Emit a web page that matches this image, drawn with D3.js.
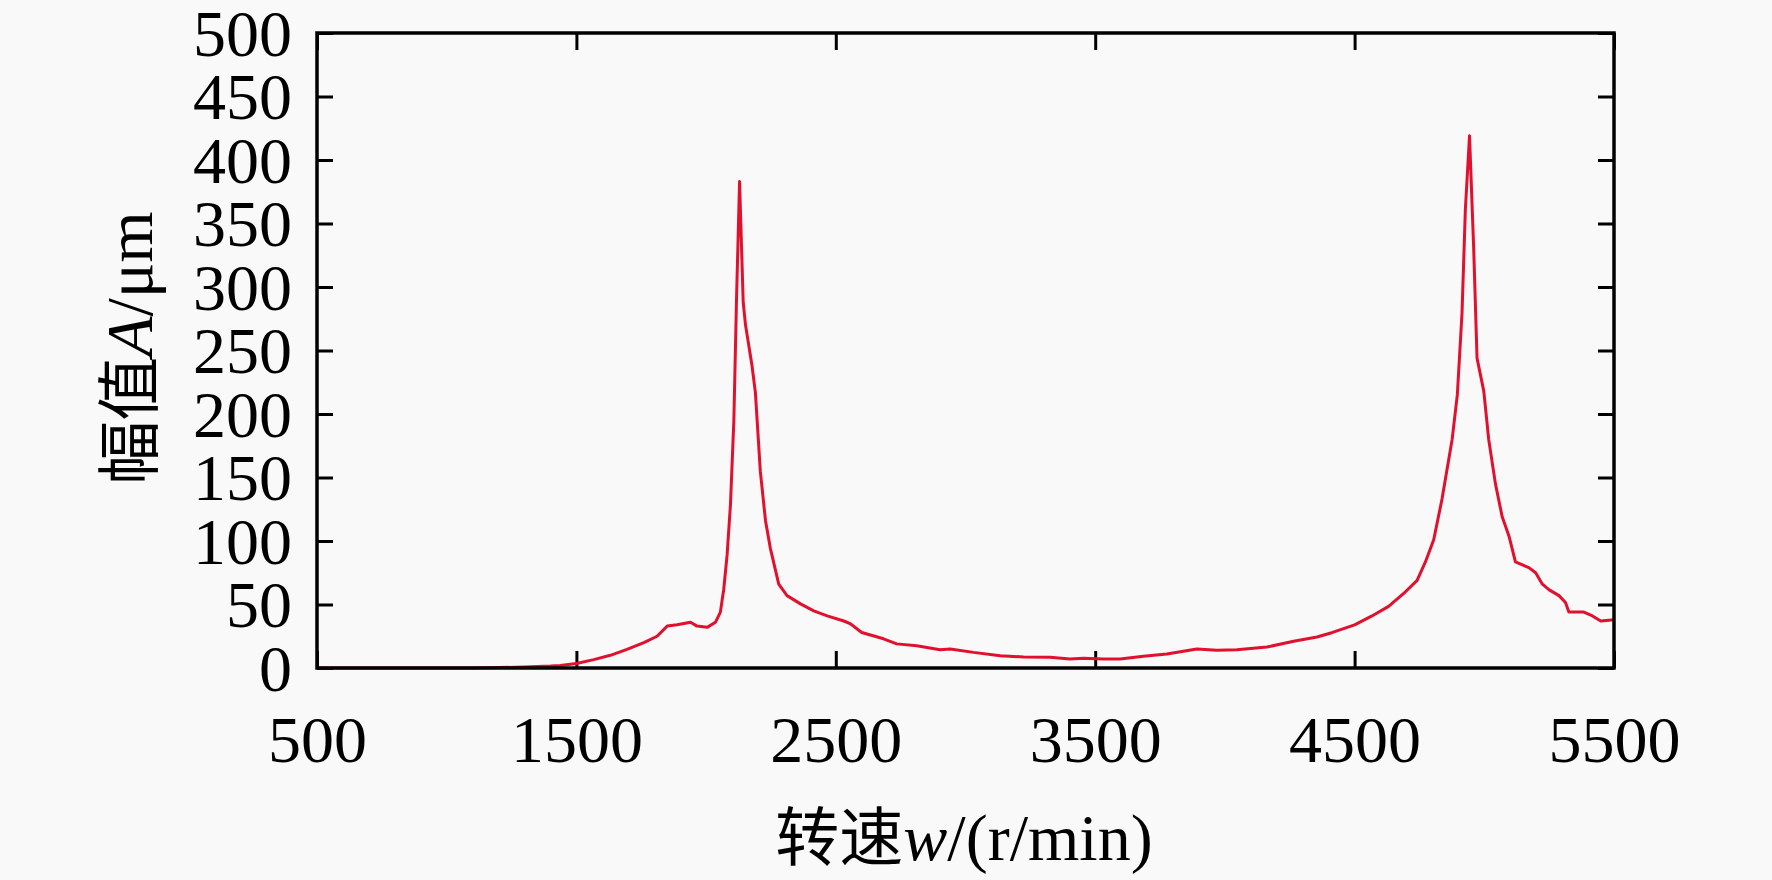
<!DOCTYPE html>
<html>
<head>
<meta charset="utf-8">
<script src="https://cdn.jsdelivr.net/npm/d3@7"></script>
<style>
  body { margin: 0; background: #f9f9f9; }
  svg { display: block; }
  .tick text { font-family: "Liberation Serif", "Times New Roman", serif; font-size: 66px; fill: #000; }
  .tick line { stroke: #000; stroke-width: 3; }
  .domain { display: none; }
</style>
</head>
<body>
<div class="canvas"></div>
<script>
// margins and dimensions
const w = 1772;
const h = 880;
const margin = { top: 33, right: 158, bottom: 212, left: 317 };
const graphWidth = w - margin.left - margin.right;
const graphHeight = h - margin.top - margin.bottom;

// rotating speed (r/min) and amplitude (um)
const speed = [500, 800, 1100, 1200, 1300, 1400, 1438, 1500, 1567, 1631, 1695, 1760, 1811, 1850, 1888, 1940, 1965,
  2004, 2036, 2055, 2068, 2081, 2094, 2107, 2117, 2129, 2143, 2152, 2177, 2190, 2209, 2229, 2248, 2280, 2312,
  2364, 2415, 2467, 2531, 2555, 2600, 2684, 2735, 2812, 2902, 2941, 3031, 3134, 3224, 3326, 3403, 3455, 3532,
  3596, 3686, 3776, 3892, 3969, 4046, 4162, 4265, 4355, 4415, 4500, 4567, 4631, 4696, 4741, 4773, 4805, 4837,
  4876, 4896, 4914, 4927, 4943, 4959, 4972, 4998, 5017, 5043, 5069, 5095, 5120, 5172, 5198, 5224, 5249, 5288,
  5313, 5326, 5384, 5417, 5449, 5500];
const amp = [0, 0, 0, 0.3, 0.8, 1.5, 2, 3.5, 6.6, 10, 14.6, 20, 25, 33, 34, 36, 33,
  32, 36, 44, 62, 89, 129, 195, 288, 383, 288, 270, 238, 217, 155, 116, 94, 66, 57,
  50.5, 45, 41, 37, 35, 28, 23, 19, 17.6, 14.4, 15, 12.3, 9.7, 8.7, 8.4, 7, 7.6, 7,
  7, 9.2, 11, 15, 14, 14.4, 16.5, 21, 24.4, 28, 34, 41, 48.5, 60, 69, 83.5, 101, 133,
  180, 215, 279, 361, 419, 331, 244, 218, 180, 145, 119, 104, 83.5, 79, 75, 66, 61.7, 57,
  51.5, 44, 44, 41, 37, 38];

// tick values
const xTicks = [500, 1500, 2500, 3500, 4500, 5500];
const yTicks = d3.range(0, 501, 50);

const svg = d3.select(".canvas").append("svg").attr("width", w).attr("height", h);

const graph = svg.append("g").attr("transform", `translate(${margin.left}, ${margin.top})`);

const xScale = d3.scaleLinear().domain([500, 5500]).range([0, graphWidth]);
const yScale = d3.scaleLinear().domain([0, 500]).range([graphHeight, 0]);

// axes with inward ticks on all four sides
const xAxis = graph.append("g")
  .attr("transform", `translate(0, ${graphHeight})`)
  .call(d3.axisBottom(xScale).tickValues(xTicks).tickSizeInner(-17).tickSizeOuter(0).tickPadding(47).tickFormat(d3.format("d")));
graph.append("g")
  .call(d3.axisTop(xScale).tickValues(xTicks).tickSizeInner(-17).tickSizeOuter(0).tickFormat(""));
const yAxis = graph.append("g")
  .call(d3.axisLeft(yScale).tickValues(yTicks).tickSizeInner(-16).tickSizeOuter(0).tickPadding(25).tickFormat(d3.format("d")));
graph.append("g")
  .attr("transform", `translate(${graphWidth}, 0)`)
  .call(d3.axisRight(yScale).tickValues(yTicks).tickSizeInner(-16).tickSizeOuter(0).tickFormat(""));

xAxis.selectAll(".tick text").attr("dy", "0.71em");
yAxis.selectAll(".tick text").attr("dy", "0.34em");

// the curve
const line = d3.line()
  .x((d, i) => xScale(speed[i]))
  .y((d) => yScale(d));

graph.append("path")
  .datum(amp)
  .attr("fill", "none")
  .attr("stroke", "#e0102e")
  .attr("stroke-width", 3)
  .attr("stroke-linejoin", "round")
  .attr("d", line);

// frame
graph.append("rect")
  .attr("width", graphWidth)
  .attr("height", graphHeight)
  .attr("fill", "none")
  .attr("stroke", "#000")
  .attr("stroke-width", 3.5);

// axis titles
const xTitle = svg.append("text")
  .attr("x", 964)
  .attr("y", 860)
  .attr("text-anchor", "middle")
  .style("font-size", "66px")
  .style("font-family", "'Liberation Serif', 'Times New Roman', serif");
xTitle.append("tspan").style("font-family", "'Noto Sans CJK SC'").style("font-size", "64px").text("转速");
xTitle.append("tspan").style("font-style", "italic").text("w");
xTitle.append("tspan").text("/(r/min)");

const yTitle = svg.append("text")
  .attr("transform", `translate(152, 348) rotate(-90)`)
  .attr("text-anchor", "middle")
  .style("font-size", "66px")
  .style("font-family", "'Liberation Serif', 'Times New Roman', serif");
yTitle.append("tspan").style("font-family", "'Noto Sans CJK SC'").style("font-size", "64px").text("幅值");
yTitle.append("tspan").style("font-style", "italic").text("A");
yTitle.append("tspan").text("/μm");
</script>
</body>
</html>
